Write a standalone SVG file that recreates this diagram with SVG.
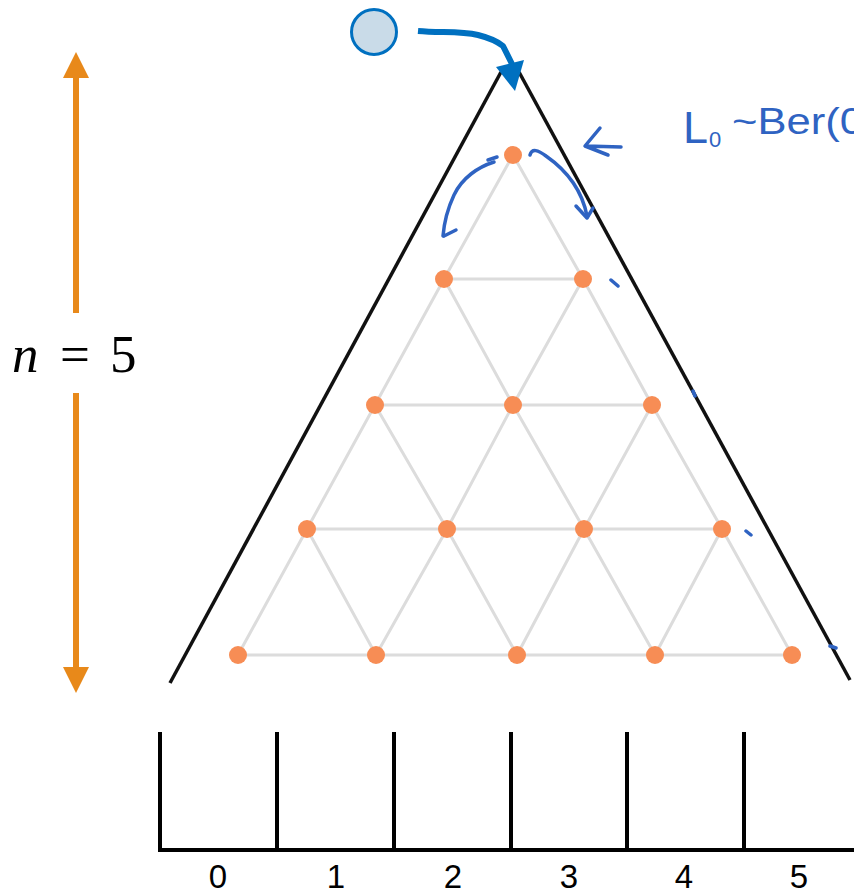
<svg xmlns="http://www.w3.org/2000/svg" width="854" height="895" viewBox="0 0 854 895">
<style>
.lat{stroke:#dcdcdc;stroke-width:3;fill:none;stroke-linecap:round}
.node{fill:#f78d55}
.tri{stroke:#111;stroke-width:3.5;fill:none;stroke-linecap:butt}
.bin{stroke:#000;stroke-width:4;fill:none}
.ink{stroke:#2f63c2;stroke-width:3.5;fill:none;stroke-linecap:round;stroke-linejoin:round}
.ora{fill:#e8891a}
.dig{font-family:"Liberation Sans",Arial,sans-serif;font-size:33px;fill:#000;text-anchor:middle}
.math{font-family:"Liberation Serif","Times New Roman",serif;font-size:53px;fill:#000}
.hand{font-family:"Liberation Sans",Arial,sans-serif;fill:#2f63c2}
</style>
<rect width="854" height="895" fill="#fff"/>

<!-- lattice connectors -->
<g id="connectors" class="lat">
<path d="M513,155 L444,279 M513,155 L583,279"/>
<path d="M444,279 L583,279 M444,279 L375,405 M444,279 L513,405 M583,279 L513,405 M583,279 L652,405"/>
<path d="M375,405 L652,405 M375,405 L307,529 M375,405 L447,529 M513,405 L447,529 M513,405 L584,529 M652,405 L584,529 M652,405 L722,529"/>
<path d="M307,529 L722,529 M307,529 L238,655 M307,529 L376,655 M447,529 L376,655 M447,529 L517,655 M584,529 L517,655 M584,529 L655,655 M722,529 L655,655 M722,529 L792,655"/>
<path d="M238,655 L792,655"/>
</g>

<!-- triangle outline -->
<g id="board">
<line class="tri" x1="170" y1="683" x2="501" y2="72"/>
<line class="tri" x1="519" y1="72" x2="850" y2="680"/>
</g>

<!-- nodes -->
<g id="pegs">
<circle id="p00" class="node" cx="513" cy="155" r="9"/>
<circle id="p10" class="node" cx="444" cy="279" r="9"/>
<circle id="p11" class="node" cx="583" cy="279" r="9"/>
<circle id="p20" class="node" cx="375" cy="405" r="9"/>
<circle id="p21" class="node" cx="513" cy="405" r="9"/>
<circle id="p22" class="node" cx="652" cy="405" r="9"/>
<circle id="p30" class="node" cx="307" cy="529" r="9"/>
<circle id="p31" class="node" cx="447" cy="529" r="9"/>
<circle id="p32" class="node" cx="584" cy="529" r="9"/>
<circle id="p33" class="node" cx="722" cy="529" r="9"/>
<circle id="p40" class="node" cx="238" cy="655" r="9"/>
<circle id="p41" class="node" cx="376" cy="655" r="9"/>
<circle id="p42" class="node" cx="517" cy="655" r="9"/>
<circle id="p43" class="node" cx="655" cy="655" r="9"/>
<circle id="p44" class="node" cx="792" cy="655" r="9"/>
</g>

<!-- ball and drop arrow -->
<g id="ball">
<circle cx="374" cy="32" r="22.5" fill="#c9dbe8" stroke="#0070c0" stroke-width="3"/>
</g>
<g id="drop-arrow">
<path d="M418,31 C440,33 460,31 478,35 C490,38 498,42 503,46 L512,64" stroke="#0070c0" stroke-width="6" fill="none" stroke-linejoin="round"/>
<polygon points="496,67 524,60 515,91" fill="#0070c0"/>
</g>

<!-- height arrow -->
<g id="height">
<rect class="ora" x="73" y="76" width="6" height="237"/>
<rect class="ora" x="73" y="393" width="6" height="276"/>
<polygon class="ora" points="76,52 63,78 89,78"/>
<polygon class="ora" points="76,693 63,667 89,667"/>
<text class="math" x="12" y="372" font-style="italic">n</text>
<text class="math" x="60" y="372">=</text>
<text class="math" x="110" y="372">5</text>
</g>

<!-- handwritten annotations -->
<g id="annotations">
<path class="ink" d="M494,162 C478,167 462,178 454,195 C447,210 444,224 443,236"/>
<path class="ink" d="M444,236 L456,230 M488,160 L497,157"/>
<path class="ink" d="M530,155 C532,148 538,150 546,156 C566,170 582,190 587,216"/>
<path class="ink" d="M576,206 L587,218 L593,208"/>
<path class="ink" d="M600,128 L585,146 L608,155 M586,146 L621,147"/>
<path class="ink" d="M611,280 L618,286 M693,391 L695,396 M746,531 L751,535 M830,646 L836,648"/>
<text class="hand" x="683" y="143" font-size="44" textLength="25" lengthAdjust="spacingAndGlyphs">L</text>
<text class="hand" x="709" y="147" font-size="22">0</text>
<text class="hand" x="732" y="134" font-size="36" textLength="132" lengthAdjust="spacingAndGlyphs">~Ber(0</text>
</g>

<!-- bins -->
<g id="bins" class="bin">
<path d="M158,850 L854,850"/>
<path d="M160,732 L160,852 M277,732 L277,850 M394,732 L394,850 M511,732 L511,850 M627,732 L627,850 M744,732 L744,850"/>
</g>
<g id="bin-labels">
<text class="dig" x="218" y="888">0</text>
<text class="dig" x="336" y="888">1</text>
<text class="dig" x="453" y="888">2</text>
<text class="dig" x="569" y="888">3</text>
<text class="dig" x="684" y="888">4</text>
<text class="dig" x="799" y="888">5</text>
</g>
</svg>
